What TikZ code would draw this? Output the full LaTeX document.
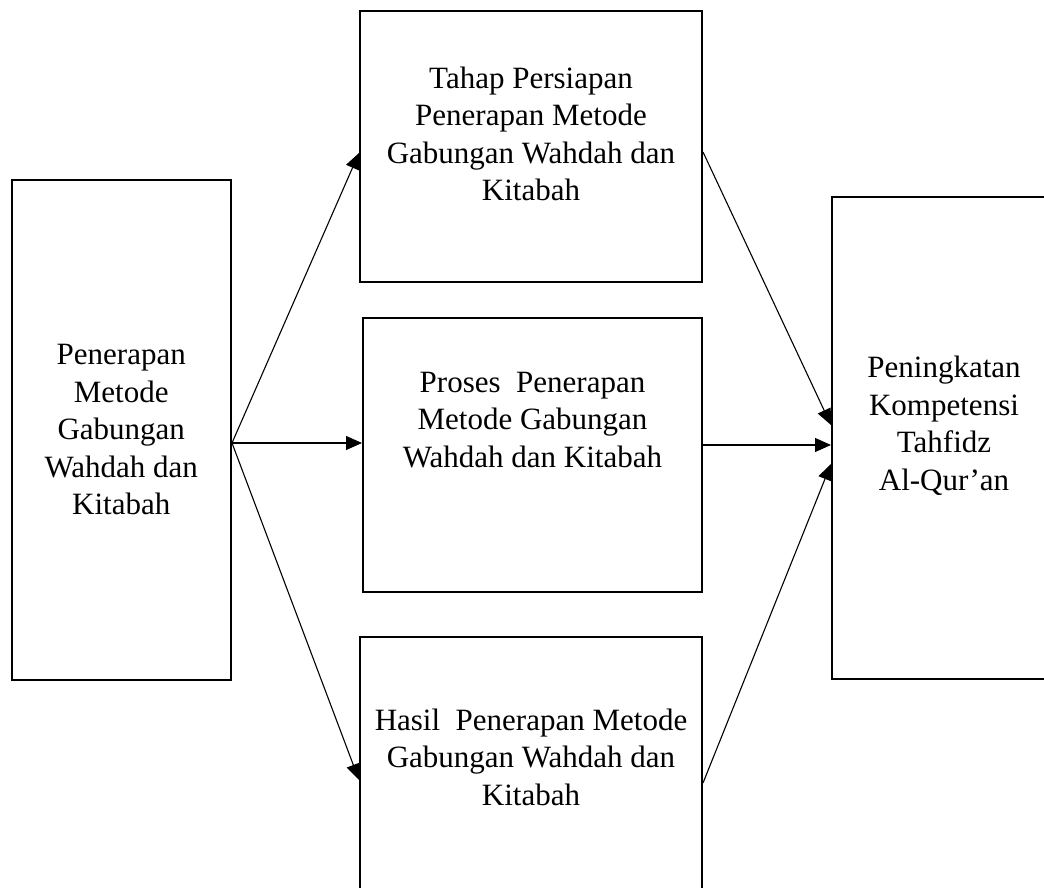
\documentclass[tikz,border=0pt]{standalone}
\usepackage{fontspec}
\setmainfont{Liberation Serif}
\usetikzlibrary{arrows.meta, positioning}

\begin{document}
\begin{tikzpicture}[x=1pt, y=1pt, >={Triangle[length=16pt, width=14pt]},
      box/.style={draw=black, line width=2pt, rectangle, inner sep=0pt},
      txt/.style={font=\fontsize{31}{37.5}\selectfont, align=center, inner sep=0pt},
      arr/.style={->, line width=1.1pt, black}]
    \useasboundingbox (0,0) rectangle (1044,888);
    \node[box, txt, minimum width=219.5pt, minimum height=500pt] (penerapan) at (121.25,458)
      {Penerapan\\Metode\\Gabungan\\Wahdah dan\\Kitabah};
    \node[box, minimum width=342pt, minimum height=271pt] (persiapan) at (531,741.5) {};
    \node[box, minimum width=339pt, minimum height=274pt] (proses) at (532.5,433) {};
    \node[box, minimum width=342pt, minimum height=263pt] (hasil) at (531,119.5) {};
    \node[box, minimum width=228pt, minimum height=482pt] (tahfidz) at (946,450) {};
    % texts
    \node[txt] (persiapantxt) at ([yshift=12.5pt]persiapan.center)
      {Tahap Persiapan\\Penerapan Metode\\Gabungan Wahdah dan\\Kitabah};
    \node[txt] (prosestxt) at ([yshift=35pt]proses.center)
      {Proses\ \ Penerapan\\Metode Gabungan\\Wahdah dan Kitabah};
    \node[txt] (hasiltxt) at ([yshift=11.5pt]hasil.center)
      {Hasil\ \ Penerapan Metode\\Gabungan Wahdah dan\\Kitabah};
    \node[txt] (tahfidztxt) at ([xshift=-2pt, yshift=12pt]tahfidz.center)
      {Peningkatan\\Kompetensi\\Tahfidz\\Al-Qur'an};
    % arrows
    \draw[arr] ([yshift=-13pt]penerapan.east) -- ([yshift=-6.5pt]persiapan.west);
    \draw[arr] ([yshift=-13pt]penerapan.east) -- ([yshift=12pt]proses.west);
    \draw[arr] ([yshift=-13pt]penerapan.east) -- ([yshift=-11.5pt]hasil.west);
    \draw[arr] ([yshift=-5.5pt]persiapan.east) -- ([yshift=13pt]tahfidz.west);
    \draw[arr] ([yshift=10pt]proses.east) -- ([yshift=-7pt]tahfidz.west);
    \draw[arr] ([yshift=-14.5pt]hasil.east) -- ([yshift=-26pt]tahfidz.west);
\end{tikzpicture}
\end{document}
